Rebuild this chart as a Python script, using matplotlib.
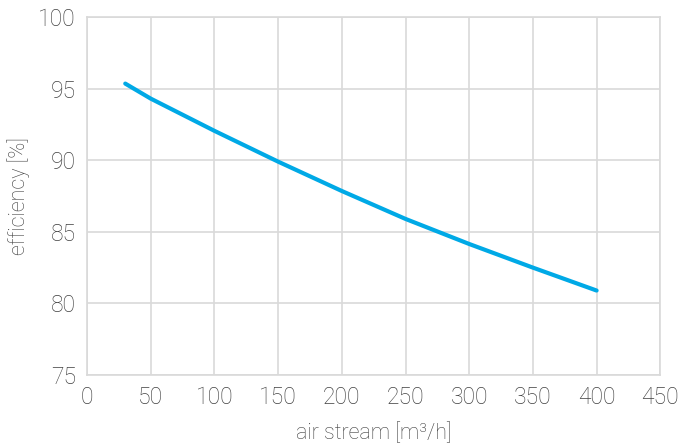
import matplotlib
matplotlib.use("Agg")
import matplotlib.pyplot as plt

# air stream [m3/h] vs efficiency [%]
air_stream = [30, 50, 100, 150, 200, 250, 300, 350, 400]
efficiency = [95.35, 94.3, 92.05, 89.9, 87.85, 85.9, 84.15, 82.5, 80.9]

x_ticks = [0, 50, 100, 150, 200, 250, 300, 350, 400, 450]
y_ticks = [75, 80, 85, 90, 95, 100]

plt.rcParams['font.family'] = ['Roboto', 'DejaVu Sans']
plt.rcParams['font.weight'] = 'light'
text_color = '#404040'
grid_color = '#d9d9d9'

fig = plt.figure(figsize=(6.8, 4.47), dpi=100)
ax = fig.add_axes([0.128, 0.161, 0.843, 0.801])

ax.plot(air_stream, efficiency, color='#00a9e6', linewidth=3, solid_capstyle='round')

ax.set_xlim(0, 450)
ax.set_ylim(75, 100)
ax.set_xticks(x_ticks)
ax.set_yticks(y_ticks)
ax.grid(True, color=grid_color, linewidth=1.2)
ax.set_axisbelow(True)

for s in ax.spines.values():
    s.set_color(grid_color)
    s.set_linewidth(1.2)

ax.tick_params(length=0, labelsize=16.5, colors=text_color, pad=8)
ax.set_xlabel("air stream [m³/h]", fontsize=15.5, color=text_color, labelpad=10, fontweight='light')
ax.set_ylabel("efficiency [%]", fontsize=15.5, color=text_color, labelpad=6, fontweight='light')

fig.savefig("out.png", dpi=100)
